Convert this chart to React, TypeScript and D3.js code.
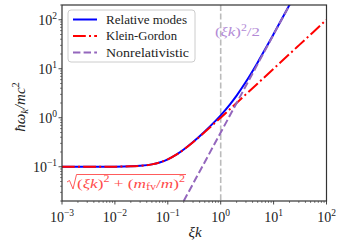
import React from "react";
import * as d3 from "d3";

const W = 341, H = 246;
const M = { left: 62, right: 326.5, top: 5, bottom: 201 };

const xDomain = [1e-3, 1e2];
const yDomain = [0.02, 200];

const xTickExp = [-3, -2, -1, 0, 1, 2];
const yTickExp = [-1, 0, 1, 2];

// Relative modes (blue)
const relK = [0.001, 0.003, 0.01, 0.02, 0.03, 0.05, 0.07, 0.1, 0.15, 0.2, 0.3, 0.5, 0.7, 1, 1.5, 2, 3, 5, 7, 10, 15, 20, 25];
const relW = [0.1, 0.10004, 0.1005, 0.102, 0.1044, 0.1118, 0.1221, 0.1415, 0.1804, 0.2245, 0.3194, 0.525, 0.7484, 1.122, 1.878, 2.83, 5.41, 13.46, 25.48, 51.0, 113.5, 201, 313.5];

// Klein-Gordon (red)
const kgK = [0.001, 0.01, 0.02, 0.03, 0.05, 0.07, 0.1, 0.15, 0.2, 0.3, 0.5, 0.7, 1, 1.5, 2, 3, 5, 10, 30, 100];
const kgW = [0.1, 0.1005, 0.102, 0.1044, 0.1118, 0.122, 0.1414, 0.1803, 0.2236, 0.3162, 0.5099, 0.7071, 1.005, 1.503, 2.0025, 3.0017, 5.001, 10.0, 30.0, 100.0];

// Nonrelativistic (purple)
const nrK = [0.2, 0.3, 1, 3, 10, 20, 25];
const nrW = [0.02, 0.045, 0.5, 4.5, 50, 200, 312.5];

const vLineK = 1;

const legendItems = [
  { label: "Relative modes", color: "#0000ff", dash: "", len: 81 },
  { label: "Klein-Gordon", color: "#ff0000", dash: "12.8,3.2,2,3.2", len: 71 },
  { label: "Nonrelativistic", color: "#9467bd", dash: "7.4,3.2", len: 83 },
];

const FONT = "'Liberation Serif'";

export default function App() {
  const x = d3.scaleLog().domain(xDomain).range([M.left, M.right]);
  const y = d3.scaleLog().domain(yDomain).range([M.bottom, M.top]);

  const mk = (ks: number[], ws: number[]) =>
    d3
      .line<number>()
      .x((_, i) => x(ks[i]))
      .y((_, i) => y(ws[i]))
      .curve(d3.curveMonotoneX)(ks) as string;

  const xMinor: number[] = [];
  for (let e = -3; e < 2; e++) for (let m = 2; m <= 9; m++) xMinor.push(m * Math.pow(10, e));
  const yMinor: number[] = [];
  for (let e = -2; e < 3; e++)
    for (let m = 1; m <= 9; m++) {
      const v = m * Math.pow(10, e);
      if (v >= yDomain[0] && v <= yDomain[1] && m !== 1) yMinor.push(v);
    }

  const axisColor = "#333";

  return (
    <svg width={W} height={H} style={{ position: "absolute", left: 0, top: 0 }}>
      <defs>
        <clipPath id="plot">
          <rect x={M.left} y={M.top} width={M.right - M.left} height={M.bottom - M.top} />
        </clipPath>
      </defs>
      <rect width={W} height={H} fill="#fff" />

      <g clipPath="url(#plot)">
        <line
          x1={x(vLineK)} x2={x(vLineK)} y1={M.top} y2={M.bottom}
          stroke="#bbbbbb" strokeWidth={1.6} strokeDasharray="6,2.6"
        />
        <path d={mk(relK, relW)} fill="none" stroke="#0000ff" strokeWidth={2} />
        <path d={mk(kgK, kgW)} fill="none" stroke="#ff0000" strokeWidth={2} strokeDasharray="12.8,3.2,2,3.2" />
        <path d={mk(nrK, nrW)} fill="none" stroke="#9467bd" strokeWidth={2} strokeDasharray="7.4,3.2" />
      </g>

      <g style={{ fontFamily: FONT }} fontFamily="Liberation Serif">
        {/* annotations */}
        <text x={215} y={36} fill="#b38ad6" fontSize={13.5} textLength={45} lengthAdjust="spacingAndGlyphs">
          <tspan>(</tspan><tspan fontStyle="italic">ξk</tspan><tspan>)</tspan>
          <tspan fontSize={9.5} dy={-5.5}>2</tspan>
          <tspan dy={5.5}>/2</tspan>
        </text>

        <path d="M67,182 L69.5,180.5 L73,189 L76.5,174.5 L186,174.5" fill="none" stroke="#ff4a4a" strokeWidth={0.9} />
        <text x={77} y={187.5} fill="#ff4a4a" fontSize={13.5} textLength={108} lengthAdjust="spacingAndGlyphs">
          <tspan>(</tspan><tspan fontStyle="italic">ξk</tspan><tspan>)</tspan>
          <tspan fontSize={9.5} dy={-5.5}>2</tspan>
          <tspan dy={5.5}>{"\u00a0+\u00a0("}</tspan>
          <tspan fontStyle="italic">m</tspan>
          <tspan fontSize={9.5} dy={2}>fv</tspan>
          <tspan dy={-2}>/</tspan>
          <tspan fontStyle="italic">m</tspan><tspan>)</tspan>
          <tspan fontSize={9.5} dy={-5.5}>2</tspan>
        </text>

        {/* axes frame */}
        <rect
          x={M.left} y={M.top} width={M.right - M.left} height={M.bottom - M.top}
          fill="none" stroke={axisColor} strokeWidth={1.2}
        />

        {/* x ticks */}
        {xTickExp.map((e) => (
          <g key={"xt" + e}>
            <line x1={x(Math.pow(10, e))} x2={x(Math.pow(10, e))} y1={M.bottom} y2={M.bottom + 3.5} stroke={axisColor} strokeWidth={0.9} />
            <text x={x(Math.pow(10, e))} y={221.5} textAnchor="middle" fontSize={14} fill="#222">
              10<tspan fontSize={9.5} dy={-5.5}>{e < 0 ? "−" + -e : String(e)}</tspan>
            </text>
          </g>
        ))}
        {xMinor.map((v, i) => (
          <line key={"xm" + i} x1={x(v)} x2={x(v)} y1={M.bottom} y2={M.bottom + 2} stroke={axisColor} strokeWidth={0.6} />
        ))}

        {/* y ticks */}
        {yTickExp.map((e) => (
          <g key={"yt" + e}>
            <line x1={M.left - 3.5} x2={M.left} y1={y(Math.pow(10, e))} y2={y(Math.pow(10, e))} stroke={axisColor} strokeWidth={0.9} />
            <text x={M.left - 5} y={y(Math.pow(10, e)) + 5} textAnchor="end" fontSize={14} fill="#222">
              10<tspan fontSize={9.5} dy={-5.5}>{e < 0 ? "−" + -e : String(e)}</tspan>
            </text>
          </g>
        ))}
        {yMinor.map((v, i) => (
          <line key={"ym" + i} x1={M.left - 2} x2={M.left} y1={y(v)} y2={y(v)} stroke={axisColor} strokeWidth={0.6} />
        ))}

        {/* axis labels */}
        <text x={195} y={237} textAnchor="middle" fontSize={15} fontStyle="italic" fill="#222">ξk</text>
        <text transform="translate(25,107) rotate(-90)" textAnchor="middle" fontSize={15} fontStyle="italic" fill="#222">
          ħω<tspan fontSize={10.5} dy={2.5}>k</tspan><tspan dy={-2.5}>/mc</tspan><tspan fontSize={10.5} dy={-6} fontStyle="normal">2</tspan>
        </text>

        {/* legend */}
        <rect x={68} y={10} width={127} height={52} rx={3} fill="#fff" fillOpacity={0.85} stroke="#cccccc" strokeWidth={1} />
        {legendItems.map((it, i) => (
          <g key={it.label}>
            <line x1={73} x2={97} y1={19.5 + i * 16.5} y2={19.5 + i * 16.5} stroke={it.color} strokeWidth={2} strokeDasharray={it.dash} />
            <text x={106} y={23.5 + i * 16.5} fontSize={13} fill="#222" textLength={it.len} lengthAdjust="spacingAndGlyphs">{it.label}</text>
          </g>
        ))}
      </g>
    </svg>
  );
}
